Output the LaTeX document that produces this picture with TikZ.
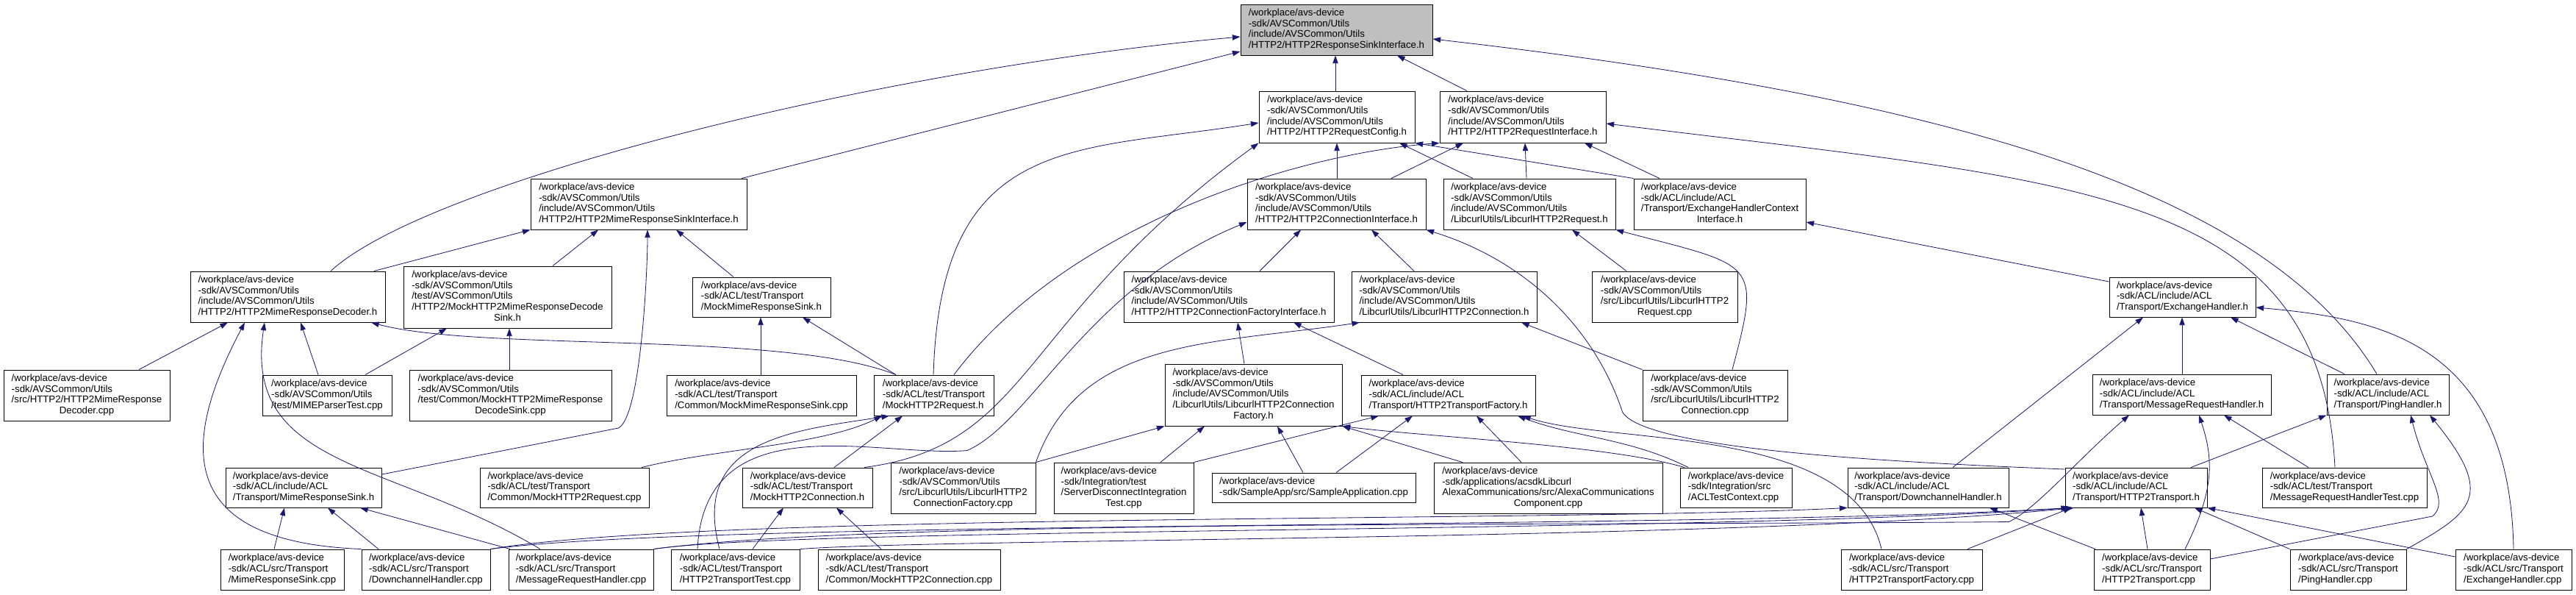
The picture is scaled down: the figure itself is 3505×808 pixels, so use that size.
\documentclass[tikz,border=0pt]{standalone}
\usepackage{fontspec}
\usepackage{tikz}
\usetikzlibrary{arrows.meta}
\newfontfamily\dxfont{Liberation Sans}
\definecolor{midnight}{RGB}{25,25,112}
\definecolor{rootgray}{RGB}{191,191,191}
\newcommand{\flbl}[1]{\begin{tabular}{@{}l@{}}#1\end{tabular}}
\newcommand{\lastc}[1]{\multicolumn{1}{@{}c@{}}{#1}}

\begin{document}
\begin{tikzpicture}[
    x=0.03cm, y=-0.03cm,
    file/.style={draw=black, fill=white, line width=0.8pt, inner sep=0pt, font=\dxfont\fontsize{11.3}{12.5}\selectfont},
    focus/.style={fill=rootgray},
    wd/.style={minimum width=#1*0.03cm},
    hg/.style={minimum height=#1*0.03cm},
    dep/.style={draw=midnight, line width=0.7pt, -{Triangle[length=0.32cm, width=0.22cm]}},
]
\useasboundingbox (0,0) rectangle (3505,808);

% 顶层
\node[file, focus, wd=261, hg=69] (root) at (1818.5,40.5) {\flbl{/workplace/avs-device\\-sdk/AVSCommon/Utils\\/include/AVSCommon/Utils\\/HTTP2/HTTP2ResponseSinkInterface.h}};
\node[file, wd=212, hg=70] (rcfg) at (1819,159) {\flbl{/workplace/avs-device\\-sdk/AVSCommon/Utils\\/include/AVSCommon/Utils\\/HTTP2/HTTP2RequestConfig.h}};
\node[file, wd=226, hg=70] (rif) at (2072,159) {\flbl{/workplace/avs-device\\-sdk/AVSCommon/Utils\\/include/AVSCommon/Utils\\/HTTP2/HTTP2RequestInterface.h}};

% 第二层
\node[file, wd=294, hg=69] (msif) at (869,277.5) {\flbl{/workplace/avs-device\\-sdk/AVSCommon/Utils\\/include/AVSCommon/Utils\\/HTTP2/HTTP2MimeResponseSinkInterface.h}};
\node[file, wd=243, hg=69] (cif) at (1818.5,277.5) {\flbl{/workplace/avs-device\\-sdk/AVSCommon/Utils\\/include/AVSCommon/Utils\\/HTTP2/HTTP2ConnectionInterface.h}};
\node[file, wd=234, hg=69] (lreqh) at (2081,277.5) {\flbl{/workplace/avs-device\\-sdk/AVSCommon/Utils\\/include/AVSCommon/Utils\\/LibcurlUtils/LibcurlHTTP2Request.h}};
\node[file, wd=234, hg=69] (ehci) at (2340,277.5) {\flbl{/workplace/avs-device\\-sdk/ACL/include/ACL\\/Transport/ExchangeHandlerContext\\\lastc{Interface.h}}};

% 第三层
\node[file, wd=265, hg=69] (mdech) at (391.5,403.5) {\flbl{/workplace/avs-device\\-sdk/AVSCommon/Utils\\/include/AVSCommon/Utils\\/HTTP2/HTTP2MimeResponseDecoder.h}};
\node[file, wd=283, hg=84] (mdsinkh) at (690.5,404) {\flbl{/workplace/avs-device\\-sdk/AVSCommon/Utils\\/test/AVSCommon/Utils\\/HTTP2/MockHTTP2MimeResponseDecode\\\lastc{Sink.h}}};
\node[file, wd=188, hg=54] (mmrsh) at (1036,404) {\flbl{/workplace/avs-device\\-sdk/ACL/test/Transport\\/MockMimeResponseSink.h}};
\node[file, wd=286, hg=69] (cfif) at (1672,403.5) {\flbl{/workplace/avs-device\\-sdk/AVSCommon/Utils\\/include/AVSCommon/Utils\\/HTTP2/HTTP2ConnectionFactoryInterface.h}};
\node[file, wd=252, hg=69] (lconnh) at (1965,403.5) {\flbl{/workplace/avs-device\\-sdk/AVSCommon/Utils\\/include/AVSCommon/Utils\\/LibcurlUtils/LibcurlHTTP2Connection.h}};
\node[file, wd=198, hg=69] (lreqcpp) at (2265,403.5) {\flbl{/workplace/avs-device\\-sdk/AVSCommon/Utils\\/src/LibcurlUtils/LibcurlHTTP2\\\lastc{Request.cpp}}};
\node[file, wd=199, hg=54] (ehh) at (2969.5,404) {\flbl{/workplace/avs-device\\-sdk/ACL/include/ACL\\/Transport/ExchangeHandler.h}};

% 第四层
\node[file, wd=226, hg=69] (mdeccpp) at (118,537.5) {\flbl{/workplace/avs-device\\-sdk/AVSCommon/Utils\\/src/HTTP2/HTTP2MimeResponse\\\lastc{Decoder.cpp}}};
\node[file, wd=176, hg=55] (mimetest) at (445,537.5) {\flbl{/workplace/avs-device\\-sdk/AVSCommon/Utils\\/test/MIMEParserTest.cpp}};
\node[file, wd=275, hg=69] (mdsinkcpp) at (694.5,537.5) {\flbl{/workplace/avs-device\\-sdk/AVSCommon/Utils\\/test/Common/MockHTTP2MimeResponse\\\lastc{DecodeSink.cpp}}};
\node[file, wd=258, hg=55] (mmrscpp) at (1036,537.5) {\flbl{/workplace/avs-device\\-sdk/ACL/test/Transport\\/Common/MockMimeResponseSink.cpp}};
\node[file, wd=163, hg=55] (mreqh) at (1270.5,537.5) {\flbl{/workplace/avs-device\\-sdk/ACL/test/Transport\\/MockHTTP2Request.h}};
\node[file, wd=241, hg=84] (lcfh) at (1705.5,537) {\flbl{/workplace/avs-device\\-sdk/AVSCommon/Utils\\/include/AVSCommon/Utils\\/LibcurlUtils/LibcurlHTTP2Connection\\\lastc{Factory.h}}};
\node[file, wd=237, hg=55] (tfh) at (1970.5,537.5) {\flbl{/workplace/avs-device\\-sdk/ACL/include/ACL\\/Transport/HTTP2TransportFactory.h}};
\node[file, wd=197, hg=69] (lconncpp) at (2333.5,537.5) {\flbl{/workplace/avs-device\\-sdk/AVSCommon/Utils\\/src/LibcurlUtils/LibcurlHTTP2\\\lastc{Connection.cpp}}};
\node[file, wd=243, hg=55] (mrhh) at (2968.5,536.5) {\flbl{/workplace/avs-device\\-sdk/ACL/include/ACL\\/Transport/MessageRequestHandler.h}};
\node[file, wd=166, hg=55] (phh) at (3249,536.5) {\flbl{/workplace/avs-device\\-sdk/ACL/include/ACL\\/Transport/PingHandler.h}};

% 第五层
\node[file, wd=212, hg=54] (mrsh) at (413,663) {\flbl{/workplace/avs-device\\-sdk/ACL/include/ACL\\/Transport/MimeResponseSink.h}};
\node[file, wd=230, hg=54] (mreqcpp) at (768,663) {\flbl{/workplace/avs-device\\-sdk/ACL/test/Transport\\/Common/MockHTTP2Request.cpp}};
\node[file, wd=177, hg=54] (mconnh) at (1098.5,663) {\flbl{/workplace/avs-device\\-sdk/ACL/test/Transport\\/MockHTTP2Connection.h}};
\node[file, wd=197, hg=69] (lcfcpp) at (1310.5,663.5) {\flbl{/workplace/avs-device\\-sdk/AVSCommon/Utils\\/src/LibcurlUtils/LibcurlHTTP2\\\lastc{ConnectionFactory.cpp}}};
\node[file, wd=190, hg=69] (sdtest) at (1529,663.5) {\flbl{/workplace/avs-device\\-sdk/Integration/test\\/ServerDisconnectIntegration\\\lastc{Test.cpp}}};
\node[file, wd=277, hg=40] (sampleapp) at (1787.5,663) {\flbl{/workplace/avs-device\\-sdk/SampleApp/src/SampleApplication.cpp}};
\node[file, wd=311, hg=69] (alexa) at (2106.5,663.5) {\flbl{/workplace/avs-device\\-sdk/applications/acsdkLibcurl\\AlexaCommunications/src/AlexaCommunications\\\lastc{Component.cpp}}};
\node[file, wd=152, hg=54] (acltc) at (2362,663) {\flbl{/workplace/avs-device\\-sdk/Integration/src\\/ACLTestContext.cpp}};
\node[file, wd=219, hg=54] (dchh) at (2623.5,663) {\flbl{/workplace/avs-device\\-sdk/ACL/include/ACL\\/Transport/DownchannelHandler.h}};
\node[file, wd=193, hg=54] (th) at (2906.5,663) {\flbl{/workplace/avs-device\\-sdk/ACL/include/ACL\\/Transport/HTTP2Transport.h}};
\node[file, wd=224, hg=54] (mrhtest) at (3190,663) {\flbl{/workplace/avs-device\\-sdk/ACL/test/Transport\\/MessageRequestHandlerTest.cpp}};

% 底层
\node[file, wd=168, hg=55] (mrscpp) at (384,774.5) {\flbl{/workplace/avs-device\\-sdk/ACL/src/Transport\\/MimeResponseSink.cpp}};
\node[file, wd=175, hg=55] (dchcpp) at (579.5,774.5) {\flbl{/workplace/avs-device\\-sdk/ACL/src/Transport\\/DownchannelHandler.cpp}};
\node[file, wd=197, hg=55] (mrhcpp) at (790.5,774.5) {\flbl{/workplace/avs-device\\-sdk/ACL/src/Transport\\/MessageRequestHandler.cpp}};
\node[file, wd=175, hg=55] (ttest) at (1000.5,774.5) {\flbl{/workplace/avs-device\\-sdk/ACL/test/Transport\\/HTTP2TransportTest.cpp}};
\node[file, wd=248, hg=55] (mconncpp) at (1237,774.5) {\flbl{/workplace/avs-device\\-sdk/ACL/test/Transport\\/Common/MockHTTP2Connection.cpp}};
\node[file, wd=192, hg=55] (tfcpp) at (2601,774.5) {\flbl{/workplace/avs-device\\-sdk/ACL/src/Transport\\/HTTP2TransportFactory.cpp}};
\node[file, wd=158, hg=55] (tcpp) at (2928,774.5) {\flbl{/workplace/avs-device\\-sdk/ACL/src/Transport\\/HTTP2Transport.cpp}};
\node[file, wd=158, hg=55] (phcpp) at (3195,774.5) {\flbl{/workplace/avs-device\\-sdk/ACL/src/Transport\\/PingHandler.cpp}};
\node[file, wd=158, hg=55] (ehcpp) at (3420,774.5) {\flbl{/workplace/avs-device\\-sdk/ACL/src/Transport\\/ExchangeHandler.cpp}};

% 指向根节点
\draw[dep] (msif.north -| 1009,0) -- (root.west |- 0,70);
\draw[dep] (mdech.north -| 450,0) .. controls +(130,-120) and +(-500,45) .. (root.west |- 0,50);
\draw[dep] (rcfg.north -| 1817,0) -- (root.south -| 1817,0);
\draw[dep] (rif.north -| 1996,0) -- (root.south -| 1901,0);
\draw[dep] (phh.north -| 3234,0) .. controls +(-150,-250) and +(700,80) .. (root.east |- 0,53);

% 指向 MimeResponseSinkInterface
\draw[dep] (mdech.north -| 509,0) -- (msif.south west);
\draw[dep] (mdsinkh.north -| 752,0) -- (msif.south -| 814,0);
\draw[dep] (mmrsh.north -| 998,0) -- (msif.south -| 920,0);
\draw[dep] (mrsh.east |- 0,645) -- ++(322,-63) .. controls +(30,-15) and +(0,60) .. (msif.south -| 881,0);

% 指向 RequestConfig / RequestInterface
\draw[dep] (cif.north -| 1819,0) -- (rcfg.south -| 1819,0);
\draw[dep] (cif.north -| 1893,0) -- (rif.south -| 1991,0);
\draw[dep] (lreqh.north -| 2004,0) -- (rcfg.south -| 1904,0);
\draw[dep] (lreqh.north -| 2077,0) -- (rif.south -| 2075,0);
\draw[dep] (ehci.north west) -- (rcfg.south east);
\draw[dep] (ehci.north -| 2258,0) -- (rif.south -| 2156,0);
\draw[dep] (mreqh.north -| 1270,0) .. controls +(10,-330) and +(-250,40) .. (rcfg.west |- 0,167);
\draw[dep] (mreqh.north -| 1298,0) .. controls +(150,-200) and +(-200,15) .. (rif.south west);
\draw[dep] (mconnh.north -| 1176,0) .. controls +(230,-30) and +(-330,240) .. (rcfg.south west);
\draw[dep] (mrhtest.north -| 3177,0) .. controls +(-20,-380) and +(650,80) .. (rif.east |- 0,168);

% 指向 ConnectionInterface
\draw[dep] (cfif.north -| 1714,0) -- (cif.south -| 1770,0);
\draw[dep] (lconnh.north -| 1924,0) -- (cif.south -| 1866,0);
\draw[dep] (th.west |- 0,638) .. controls +(-250,-10) and +(28,50) .. ++(-602,-78) .. controls +(-40,-120) and +(130,40) .. (cif.south east);
\draw[dep] (ttest.north -| 949,0) .. controls +(10,-200) and +(-120,10) .. ++(367,-134) .. controls +(90,-40) and +(-220,90) .. (cif.west |- 0,302);

% 指向 MimeResponseDecoder / DecodeSink
\draw[dep] (mdeccpp.north -| 189,0) -- (mdech.south -| 310,0);
\draw[dep] (mimetest.north -| 433,0) -- (mdech.south -| 409,0);
\draw[dep] (dchcpp.north west) .. controls +(-250,-10) and +(-90,170) .. (mdech.south -| 333,0);
\draw[dep] (mrhcpp.north -| 735,0) .. controls +(-200,-120) and +(-30,200) .. (mdech.south -| 360,0);
\draw[dep] (mreqh.north -| 1219,0) .. controls +(-150,-60) and +(150,40) .. (mdech.south -| 505,0);
\draw[dep] (mimetest.north -| 497,0) -- (mdsinkh.south -| 608,0);
\draw[dep] (mdsinkcpp.north -| 693,0) -- (mdsinkh.south -| 693,0);

% 测试桩
\draw[dep] (mmrscpp.north -| 1035,0) -- (mmrsh.south -| 1035,0);
\draw[dep] (mreqh.north -| 1219,0) -- (mmrsh.south -| 1092,0);
\draw[dep] (mreqcpp.north -| 873,0) .. controls +(100,-25) and +(-80,40) .. (mreqh.south -| 1200,0);
\draw[dep] (mconnh.north -| 1135,0) -- (mreqh.south -| 1228,0);
\draw[dep] (ttest.north -| 979,0) .. controls +(-40,-150) and +(-130,20) .. (mreqh.south -| 1210,0);
\draw[dep] (ttest.north -| 1024,0) -- (mconnh.south -| 1066,0);
\draw[dep] (mconncpp.north -| 1199,0) -- (mconnh.south -| 1138,0);

% Libcurl 部分
\draw[dep] (lcfh.north -| 1693,0) -- (cfif.south -| 1684,0);
\draw[dep] (tfh.north -| 1909,0) -- (cfif.south -| 1760,0);
\draw[dep] (lcfcpp.north east) .. controls +(60,-170) and +(-200,30) .. (lconnh.south -| 1850,0);
\draw[dep] (lconncpp.north west) -- (lconnh.south -| 2070,0);
\draw[dep] (lreqcpp.north -| 2213,0) -- (lreqh.south -| 2139,0);
\draw[dep] (lconncpp.north -| 2357,0) .. controls +(40,-150) and +(190,50) .. (lreqh.south east);

% 指向 ConnectionFactory.h / TransportFactory.h
\draw[dep] (lcfcpp.north east) -- (lcfh.south west);
\draw[dep] (sdtest.north -| 1579,0) -- (lcfh.south -| 1639,0);
\draw[dep] (sampleapp.north -| 1773,0) -- (lcfh.south -| 1738,0);
\draw[dep] (alexa.north -| 1990,0) -- (lcfh.south east);
\draw[dep] (acltc.north -| 2292,0) .. controls +(-100,-30) and +(120,15) .. (lcfh.south east);
\draw[dep] (sdtest.north east) -- (tfh.south -| 1876,0);
\draw[dep] (sampleapp.north -| 1818,0) -- (tfh.south -| 1922,0);
\draw[dep] (alexa.north -| 2070,0) -- (tfh.south -| 2009,0);
\draw[dep] (acltc.north -| 2297,0) .. controls +(-80,-40) and +(80,30) .. (tfh.south -| 2065,0);
\draw[dep] (tfcpp.north -| 2560,0) .. controls +(-40,-170) and +(120,40) .. (tfh.south -| 2072,0);

% 指向 MimeResponseSink.h
\draw[dep] (mrscpp.north -| 373,0) -- (mrsh.south -| 387,0);
\draw[dep] (dchcpp.north -| 515,0) -- (mrsh.south -| 446,0);
\draw[dep] (mrhcpp.north -| 694,0) -- (mrsh.south -| 490,0);

% 指向 HTTP2Transport.h / DownchannelHandler.h
\draw[dep] (dchcpp.north east) .. controls +(300,-50) and +(-400,20) .. (dchh.south west);
\draw[dep] (dchcpp.north east) .. controls +(300,-40) and +(-500,30) .. (th.south -| 2815,0);
\draw[dep] (mrhcpp.north east) .. controls +(200,-30) and +(-500,35) .. (th.south -| 2818,0);
\draw[dep] (ttest.north east) .. controls +(200,-15) and +(-450,45) .. (th.south -| 2822,0);
\draw[dep] (tfcpp.north -| 2677,0) -- (th.south -| 2818,0);
\draw[dep] (tcpp.north -| 2922,0) -- (th.south -| 2913,0);
\draw[dep] (phcpp.north west) -- (th.south -| 2986,0);
\draw[dep] (ehcpp.west |- 0,757) -- (th.south east);
\draw[dep] (tcpp.north -| 2851,0) -- (dchh.south -| 2707,0);

% 指向 MessageRequestHandler.h / ExchangeHandler.h
\draw[dep] (mrhcpp.north east) .. controls +(300,-40) and +(-600,5) .. ++(1844,-37) .. controls +(40,-20) and +(-70,60) .. (mrhh.south -| 2897,0);
\draw[dep] (tcpp.north -| 2973,0) .. controls +(40,-80) and +(20,60) .. (mrhh.south -| 2992,0);
\draw[dep] (mrhtest.north -| 3141,0) -- (mrhh.south -| 3026,0);
\draw[dep] (mrhh.north -| 2969,0) -- (ehh.south -| 2969,0);
\draw[dep] (dchh.north -| 2657,0) -- (ehh.south -| 2916,0);
\draw[dep] (phh.north -| 3190,0) -- (ehh.south -| 3035,0);
\draw[dep] (ehcpp.north -| 3420,0) .. controls +(-5,-280) and +(170,15) .. (ehh.east |- 0,418);
\draw[dep] (ehh.west |- 0,383) -- (ehci.east |- 0,302);

% 指向 PingHandler.h
\draw[dep] (th.north -| 2981,0) -- (phh.south west);
\draw[dep] (tcpp.east |- 0,760) -- ++(302,-58) .. controls +(25,-20) and +(20,80) .. (phh.south -| 3280,0);
\draw[dep] (phcpp.north east) .. controls +(90,-50) and +(90,110) .. (phh.south -| 3306,0);

\end{tikzpicture}
\end{document}
